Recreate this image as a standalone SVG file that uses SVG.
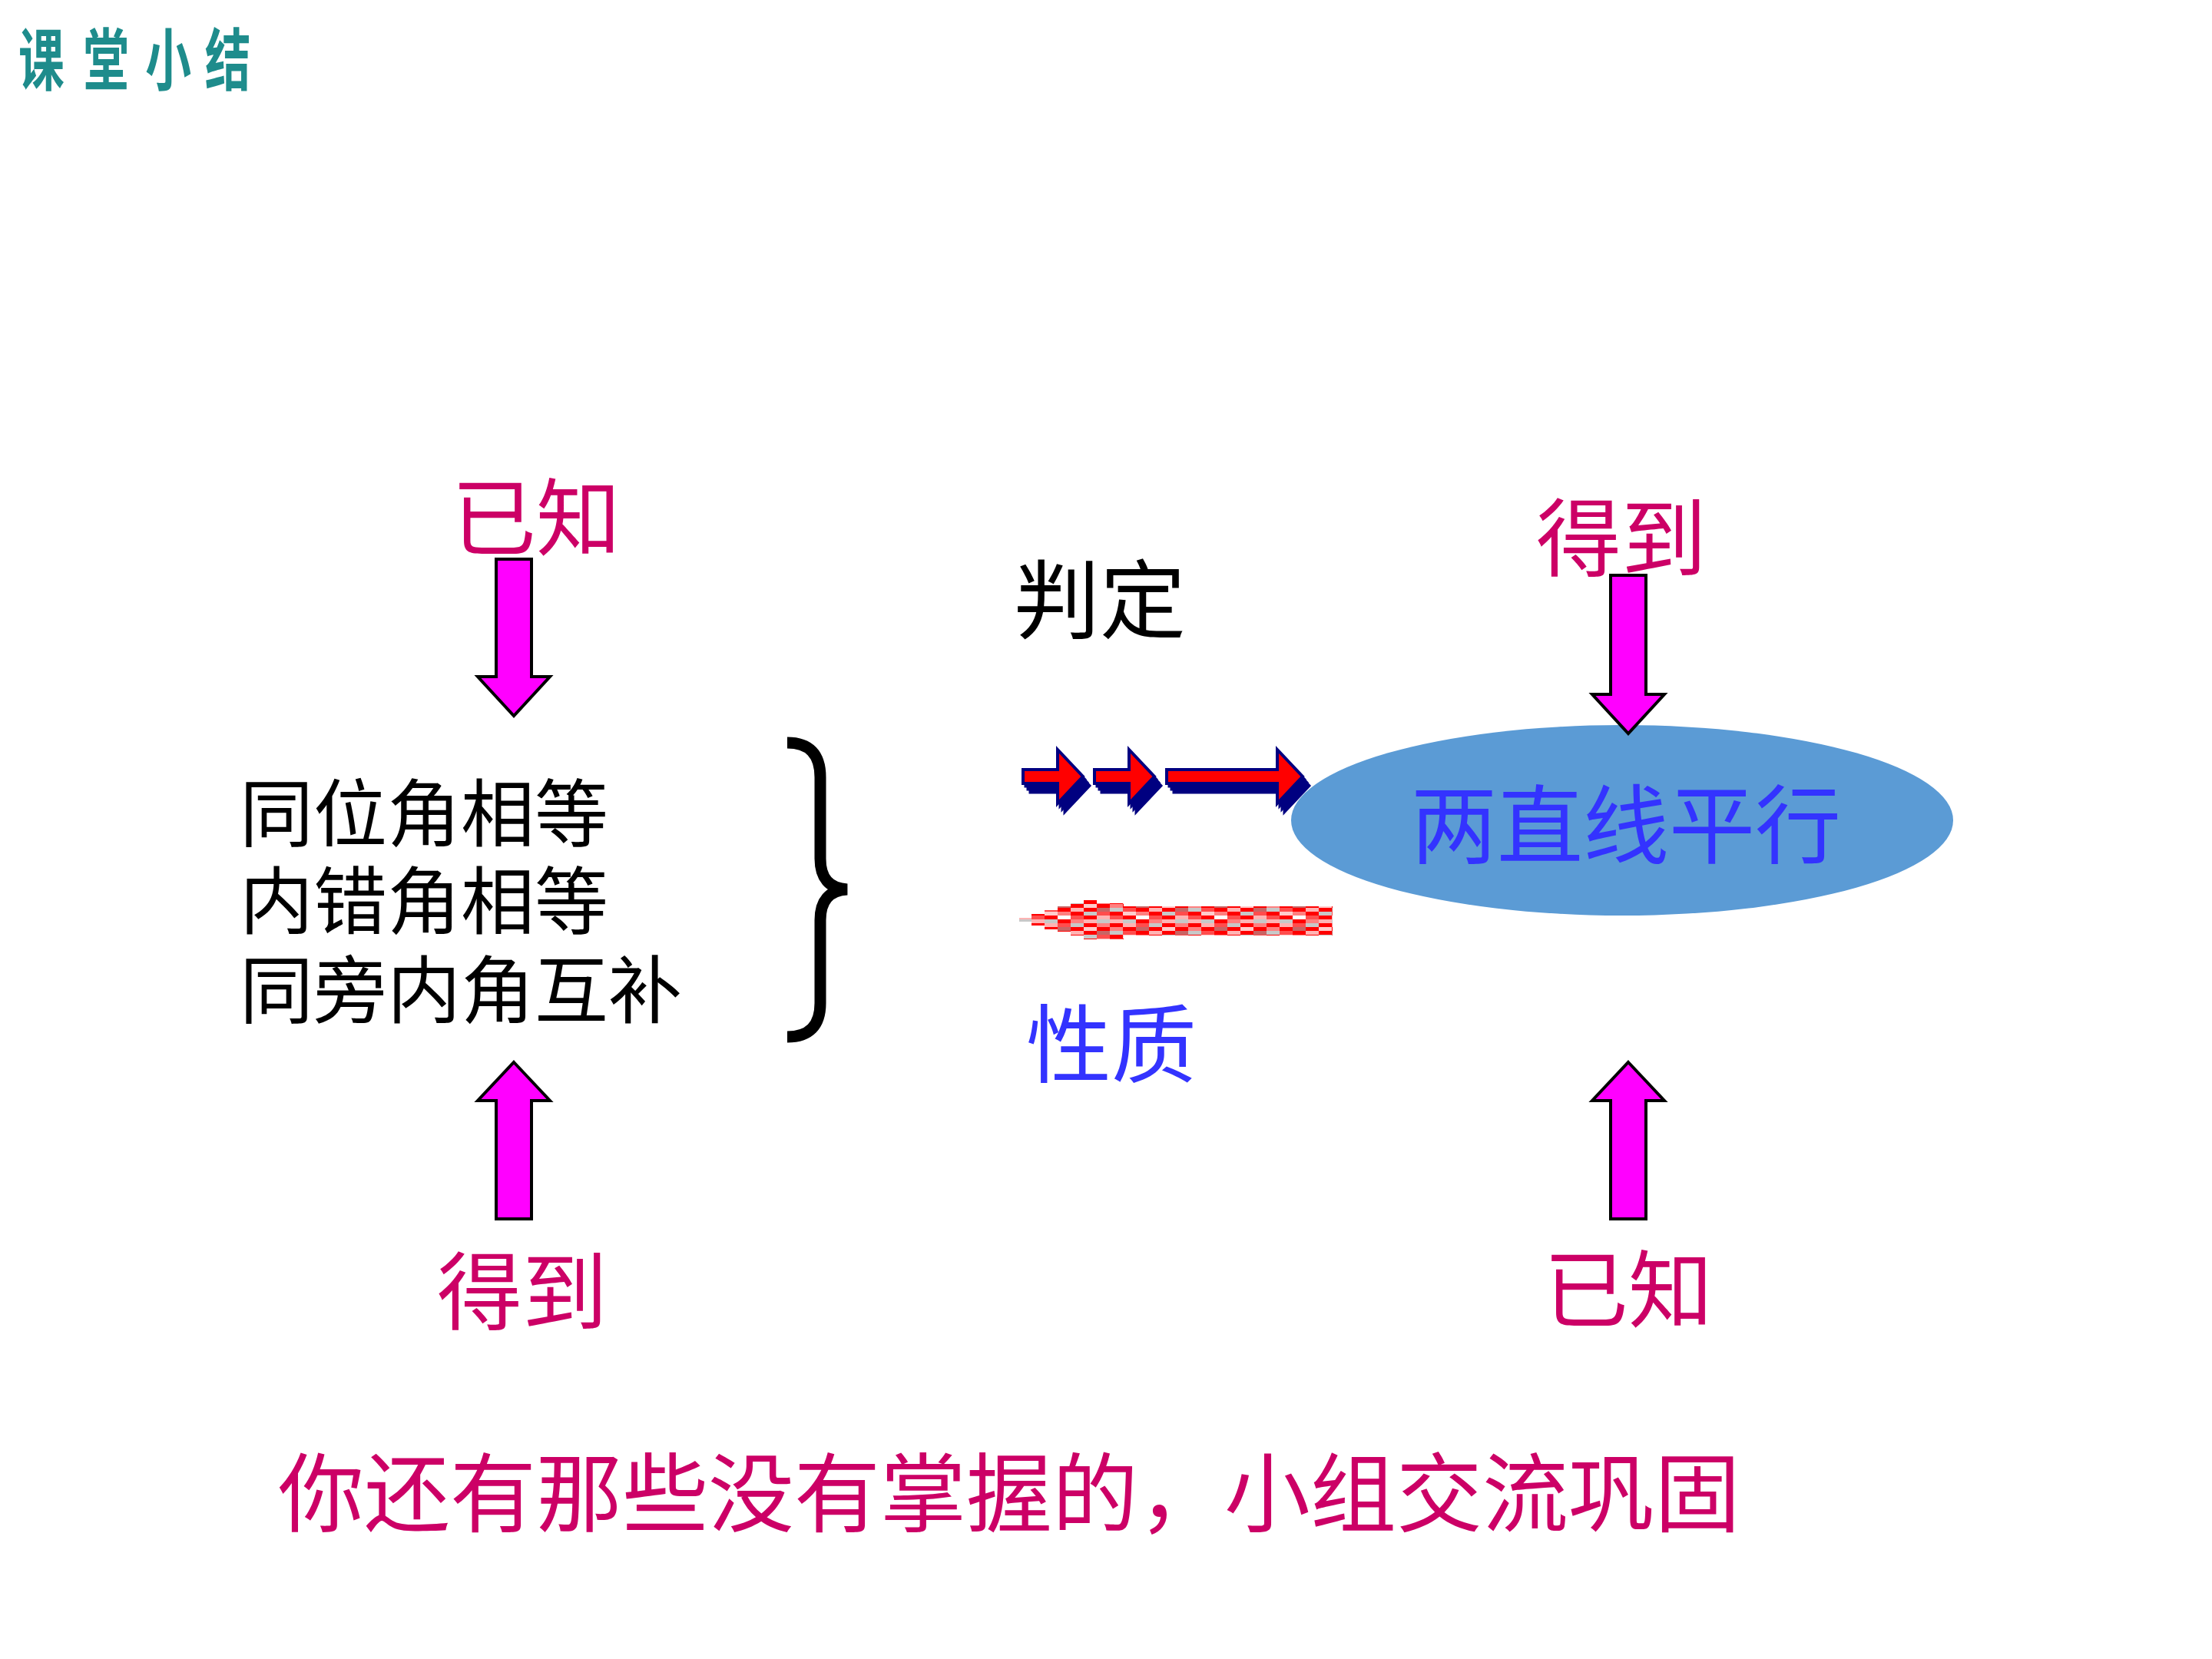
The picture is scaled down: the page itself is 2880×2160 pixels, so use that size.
<svg xmlns="http://www.w3.org/2000/svg" width="2880" height="2160" viewBox="0 0 2880 2160">
<defs>
<style>
.cjk{font-family:"Noto Sans CJK SC","Noto Sans CJK JP",sans-serif;}
.mag{fill:#cc0066;}
.blk{fill:#000000;}
.blu{fill:#3333ff;}
.marrow{fill:#ff00ff;stroke:#000000;stroke-width:4;stroke-linejoin:miter;}
.rarrow{fill:#ff0000;stroke:#000080;stroke-width:4;stroke-linejoin:miter;}
.rshadow{fill:#000080;stroke:#000080;stroke-width:3;}
</style>
<pattern id="chk" patternUnits="userSpaceOnUse" x="1343" y="1172" width="102" height="30">
<rect x="0" y="0" width="17" height="5" fill="#ff0000"/><rect x="17" y="0" width="17" height="5" fill="#ffb3b3"/><rect x="34" y="0" width="17" height="5" fill="#ff4d4d"/><rect x="51" y="0" width="17" height="5" fill="#c8c8c8"/><rect x="68" y="0" width="17" height="5" fill="#ff0000"/><rect x="85" y="0" width="17" height="5" fill="#ff8080"/>
<rect x="0" y="5" width="17" height="5" fill="#ff8080"/><rect x="17" y="5" width="17" height="5" fill="#ff0000"/><rect x="34" y="5" width="17" height="5" fill="#c86464"/><rect x="51" y="5" width="17" height="5" fill="#ff0000"/><rect x="68" y="5" width="17" height="5" fill="#ffcccc"/><rect x="85" y="5" width="17" height="5" fill="#ff0000"/>
<rect x="0" y="10" width="17" height="5" fill="#c8c8c8"/><rect x="17" y="10" width="17" height="5" fill="#ff4d4d"/><rect x="34" y="10" width="17" height="5" fill="#ff0000"/><rect x="51" y="10" width="17" height="5" fill="#ffb3b3"/><rect x="68" y="10" width="17" height="5" fill="#ff0000"/><rect x="85" y="10" width="17" height="5" fill="#c86464"/>
<rect x="0" y="15" width="17" height="5" fill="#ff0000"/><rect x="17" y="15" width="17" height="5" fill="#ffcccc"/><rect x="34" y="15" width="17" height="5" fill="#ff8080"/><rect x="51" y="15" width="17" height="5" fill="#ff0000"/><rect x="68" y="15" width="17" height="5" fill="#c8c8c8"/><rect x="85" y="15" width="17" height="5" fill="#ff4d4d"/>
<rect x="0" y="20" width="17" height="5" fill="#ff4d4d"/><rect x="17" y="20" width="17" height="5" fill="#ff0000"/><rect x="34" y="20" width="17" height="5" fill="#ffffff"/><rect x="51" y="20" width="17" height="5" fill="#ff4d4d"/><rect x="68" y="20" width="17" height="5" fill="#ff0000"/><rect x="85" y="20" width="17" height="5" fill="#ffb3b3"/>
<rect x="0" y="25" width="17" height="5" fill="#ffb3b3"/><rect x="17" y="25" width="17" height="5" fill="#c8c8c8"/><rect x="34" y="25" width="17" height="5" fill="#ff0000"/><rect x="51" y="25" width="17" height="5" fill="#ff8080"/><rect x="68" y="25" width="17" height="5" fill="#ffb3b3"/><rect x="85" y="25" width="17" height="5" fill="#c8c8c8"/>
</pattern>
</defs>
<rect x="0" y="0" width="2880" height="2160" fill="#ffffff"/>

<g id="title">
<text class="cjk" transform="translate(24,110) scale(0.68,1)" font-size="88" font-weight="bold" fill="#1e8c8c" x="0 124 243 357" y="0">课堂小结</text>
</g>

<g id="node-conditions">
<text class="cjk blk" font-size="96"><tspan x="312" y="1094">同位角相等</tspan><tspan x="312" y="1208">内错角相等</tspan><tspan x="312" y="1324">同旁内角互补</tspan></text>
<path d="M1025,967 Q1068,967 1068,1012 L1068,1118 Q1068,1156 1103,1158 Q1068,1160 1068,1198 L1068,1306 Q1068,1350 1025,1350" fill="none" stroke="#000000" stroke-width="15"/>
</g>

<g id="node-parallel">
<ellipse cx="2112" cy="1068" rx="431" ry="124" fill="#5b9bd5"/>
<text class="cjk blu" x="2117" y="1116" font-size="112" text-anchor="middle">两直线平行</text>
</g>

<g id="label-known-top"><text class="cjk mag" x="588" y="715" font-size="110">已知</text></g>
<g id="label-get-bottom"><text class="cjk mag" x="569" y="1723" font-size="111">得到</text></g>
<g id="label-get-top"><text class="cjk mag" x="2000" y="742" font-size="111">得到</text></g>
<g id="label-known-bottom"><text class="cjk mag" x="2010" y="1720" font-size="110">已知</text></g>
<g id="label-judge"><text class="cjk blk" x="1320" y="823" font-size="112">判定</text></g>
<g id="label-property"><text class="cjk blu" x="1336" y="1401" font-size="111">性质</text></g>
<g id="footer"><text class="cjk mag" x="362" y="1986" font-size="112">你还有那些没有掌握的，小组交流巩固</text></g>

<g id="connectors">
<polygon class="marrow" points="646,728 692,728 692,881 716,881 669,932 622,881 646,881"/>
<polygon class="marrow" points="2097,749 2143,749 2143,904 2167,904 2120,955 2073,904 2097,904"/>
<polygon class="marrow" points="669,1383 716,1433 692,1433 692,1587 646,1587 646,1433 622,1433"/>
<polygon class="marrow" points="2120,1383 2167,1433 2143,1433 2143,1587 2097,1587 2097,1433 2073,1433"/>

<g id="arrow-judge">
<g class="rshadow">
<polygon points="1332,1002 1377,1002 1377,976 1410,1011 1377,1046 1377,1020 1332,1020" transform="translate(3,4)"/>
<polygon points="1332,1002 1377,1002 1377,976 1410,1011 1377,1046 1377,1020 1332,1020" transform="translate(6,8)"/>
<polygon points="1332,1002 1377,1002 1377,976 1410,1011 1377,1046 1377,1020 1332,1020" transform="translate(9,12)"/>
<polygon points="1425,1002 1470,1002 1470,976 1503,1011 1470,1046 1470,1020 1425,1020" transform="translate(3,4)"/>
<polygon points="1425,1002 1470,1002 1470,976 1503,1011 1470,1046 1470,1020 1425,1020" transform="translate(6,8)"/>
<polygon points="1425,1002 1470,1002 1470,976 1503,1011 1470,1046 1470,1020 1425,1020" transform="translate(9,12)"/>
<polygon points="1519,1002 1663,1002 1663,976 1696,1011 1663,1046 1663,1020 1519,1020" transform="translate(3,4)"/>
<polygon points="1519,1002 1663,1002 1663,976 1696,1011 1663,1046 1663,1020 1519,1020" transform="translate(6,8)"/>
<polygon points="1519,1002 1663,1002 1663,976 1696,1011 1663,1046 1663,1020 1519,1020" transform="translate(9,12)"/>
</g>
<polygon class="rarrow" points="1332,1002 1377,1002 1377,976 1410,1011 1377,1046 1377,1020 1332,1020"/>
<polygon class="rarrow" points="1425,1002 1470,1002 1470,976 1503,1011 1470,1046 1470,1020 1425,1020"/>
<polygon class="rarrow" points="1519,1002 1663,1002 1663,976 1696,1011 1663,1046 1663,1020 1519,1020"/>
</g>

<path id="arrow-property" fill="url(#chk)" d="M1327,1195 L1343,1195 L1343,1190 L1360,1190 L1360,1185 L1377,1185 L1377,1180 L1394,1180 L1394,1176 L1411,1176 L1411,1172 L1428,1172 L1428,1176 L1463,1176 L1463,1180 L1735,1180 L1735,1218 L1463,1218 L1463,1223 L1411,1223 L1411,1218 L1394,1218 L1394,1213 L1377,1213 L1377,1210 L1360,1210 L1360,1205 L1343,1205 L1343,1200 L1327,1200 Z"/>
</g>
</svg>
